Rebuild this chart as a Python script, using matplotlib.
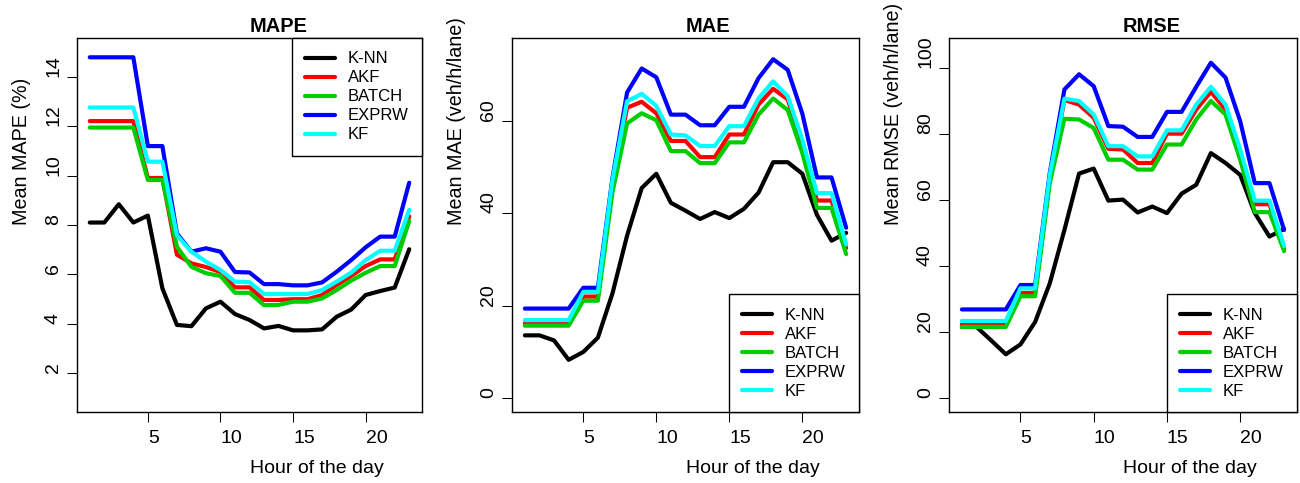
import matplotlib
matplotlib.use('Agg')
import matplotlib.pyplot as plt

plt.rcParams['font.family'] = ['Liberation Sans', 'DejaVu Sans']

# 数据：每小时的平均误差
hours = list(range(1, 24))
methods = ['K-NN', 'AKF', 'BATCH', 'EXPRW', 'KF']
colors = ['#000000', '#FF0000', '#00CD00', '#0000FF', '#00FFFF']

mape_knn = [8.10, 8.10, 8.84, 8.10, 8.38, 5.44, 3.96, 3.91, 4.63, 4.90, 4.40, 4.16, 3.82, 3.92, 3.74, 3.74, 3.78, 4.29, 4.58, 5.17, 5.33, 5.47, 7.02]
mape_akf = [12.20, 12.20, 12.20, 12.20, 9.90, 9.90, 6.80, 6.45, 6.30, 6.10, 5.48, 5.48, 4.97, 4.97, 5.00, 5.00, 5.17, 5.57, 5.94, 6.34, 6.61, 6.61, 8.35]
mape_batch = [11.94, 11.94, 11.94, 11.94, 9.82, 9.82, 7.12, 6.31, 6.05, 5.94, 5.26, 5.26, 4.76, 4.77, 4.90, 4.90, 5.03, 5.37, 5.75, 6.07, 6.34, 6.34, 8.16]
mape_exprw = [14.78, 14.78, 14.78, 14.78, 11.19, 11.19, 7.66, 6.92, 7.06, 6.92, 6.10, 6.08, 5.61, 5.61, 5.56, 5.56, 5.68, 6.11, 6.58, 7.10, 7.53, 7.53, 9.71]
mape_kf = [12.75, 12.75, 12.75, 12.75, 10.56, 10.56, 7.59, 6.92, 6.52, 6.18, 5.71, 5.69, 5.21, 5.21, 5.21, 5.21, 5.37, 5.71, 6.07, 6.58, 6.96, 6.96, 8.61]

mae_knn = [13.6, 13.6, 12.5, 8.3, 10.0, 13.1, 22.7, 35.2, 45.5, 48.6, 42.3, 40.6, 38.8, 40.3, 39.0, 41.0, 44.5, 51.1, 51.1, 48.6, 39.7, 34.1, 35.8]
mae_akf = [16.2, 16.2, 16.2, 16.2, 22.0, 22.0, 46.2, 62.9, 64.2, 61.7, 55.7, 55.7, 52.2, 52.2, 57.1, 57.1, 63.6, 67.0, 64.7, 54.9, 42.8, 42.8, 32.5]
mae_batch = [15.7, 15.7, 15.7, 15.7, 21.1, 21.1, 44.6, 59.5, 61.7, 60.2, 53.5, 53.5, 50.9, 50.9, 55.4, 55.4, 61.4, 64.9, 62.4, 53.1, 41.2, 41.2, 31.2]
mae_exprw = [19.4, 19.4, 19.4, 19.4, 23.9, 23.9, 47.7, 66.2, 71.4, 69.5, 61.4, 61.4, 59.1, 59.1, 63.1, 63.1, 69.3, 73.4, 71.1, 61.6, 47.8, 47.8, 36.9]
mae_kf = [16.9, 16.9, 16.9, 16.9, 23.0, 23.0, 47.3, 64.3, 65.9, 63.3, 57.1, 56.9, 54.6, 54.6, 58.9, 58.9, 64.9, 68.6, 65.4, 56.0, 44.4, 44.4, 33.3]

rmse_knn = [21.6, 21.6, 17.5, 13.3, 16.3, 23.1, 34.8, 51.0, 68.1, 69.6, 59.9, 60.2, 56.3, 58.1, 56.1, 62.0, 64.7, 74.3, 71.3, 67.7, 56.1, 49.0, 51.3]
rmse_akf = [22.4, 22.4, 22.4, 22.4, 31.9, 31.9, 66.7, 90.4, 89.0, 85.0, 75.6, 75.4, 71.3, 71.3, 80.2, 80.2, 87.5, 92.9, 87.5, 74.3, 58.8, 58.8, 45.4]
rmse_batch = [21.6, 21.6, 21.6, 21.6, 30.9, 30.9, 65.2, 84.7, 84.5, 81.9, 72.3, 72.3, 69.3, 69.3, 76.9, 76.9, 84.5, 90.1, 86.0, 72.3, 56.4, 56.4, 44.6]
rmse_exprw = [26.9, 26.9, 26.9, 26.9, 34.3, 34.3, 68.3, 93.6, 98.2, 94.6, 82.5, 82.3, 79.2, 79.2, 86.8, 86.8, 94.4, 101.7, 97.2, 84.0, 65.2, 65.2, 51.0]
rmse_kf = [23.4, 23.4, 23.4, 23.4, 33.3, 33.3, 67.7, 90.8, 90.1, 86.0, 76.4, 76.4, 73.3, 73.3, 81.2, 81.2, 89.0, 94.4, 89.0, 75.4, 59.9, 59.9, 46.1]

panels = [
    ('MAPE', 'Mean MAPE (%)', [mape_knn, mape_akf, mape_batch, mape_exprw, mape_kf],
     (0.44, 15.56), [2, 4, 6, 8, 10, 12, 14], 'upper right'),
    ('MAE', 'Mean MAE (veh/h/lane)', [mae_knn, mae_akf, mae_batch, mae_exprw, mae_kf],
     (-3, 78), [0, 20, 40, 60], 'lower right'),
    ('RMSE', 'Mean RMSE (veh/h/lane)', [rmse_knn, rmse_akf, rmse_batch, rmse_exprw, rmse_kf],
     (-4.2, 109.2), [0, 20, 40, 60, 80, 100], 'lower right'),
]

fig = plt.figure(figsize=(13, 4.83), dpi=100)
lefts = [77, 512, 949]
widths = [345, 347, 348]

for (title, ylabel, series, ylim, yticks, legloc), l, w in zip(panels, lefts, widths):
    ax = fig.add_axes([l / 1300, (483 - 412) / 483, w / 1300, 374 / 483])
    for vals, name, c in zip(series, methods, colors):
        ax.plot(hours, vals, color=c, lw=3, label=name,
                solid_joinstyle='round', solid_capstyle='round')

    ax.set_xlim(0.12, 23.88)
    ax.set_ylim(*ylim)
    ax.set_xticks([5, 10, 15, 20])
    ax.set_yticks(yticks)
    ax.tick_params(direction='out', length=7.2, width=0.75, labelsize=14)
    ax.tick_params(axis='x', pad=5.8)
    ax.tick_params(axis='y', pad=3.6)
    for lab in ax.get_xticklabels():
        lab.set_ha('left')
    for lab in ax.get_yticklabels():
        lab.set_rotation(90)
        lab.set_va('bottom')
    for s in ax.spines.values():
        s.set_linewidth(1.0)

    # 标题和坐标轴标签（起点对齐在中心）
    ax.annotate(title, xy=(0.5, 1), xycoords='axes fraction', xytext=(0, 4.5),
                textcoords='offset points', ha='left', va='baseline',
                fontsize=14.4, fontweight='bold')
    ax.annotate('Hour of the day', xy=(0.5, 0), xycoords='axes fraction', xytext=(0, -44),
                textcoords='offset points', ha='left', va='baseline', fontsize=14)
    ax.annotate(ylabel, xy=(0, 0.5), xycoords='axes fraction', xytext=(-36, 0),
                textcoords='offset points', ha='left', va='baseline', fontsize=14.2,
                rotation=90, rotation_mode='anchor', annotation_clip=False)

    leg = ax.legend(loc=legloc, borderaxespad=0, fancybox=False, edgecolor='black',
                    framealpha=1, fontsize=12, handlelength=1.8, handletextpad=0.75,
                    borderpad=0.8, labelspacing=0.24)
    leg.get_frame().set_linewidth(1.0)
    for line in leg.get_lines():
        line.set_linewidth(3)

fig.savefig('out.png', dpi=100)
